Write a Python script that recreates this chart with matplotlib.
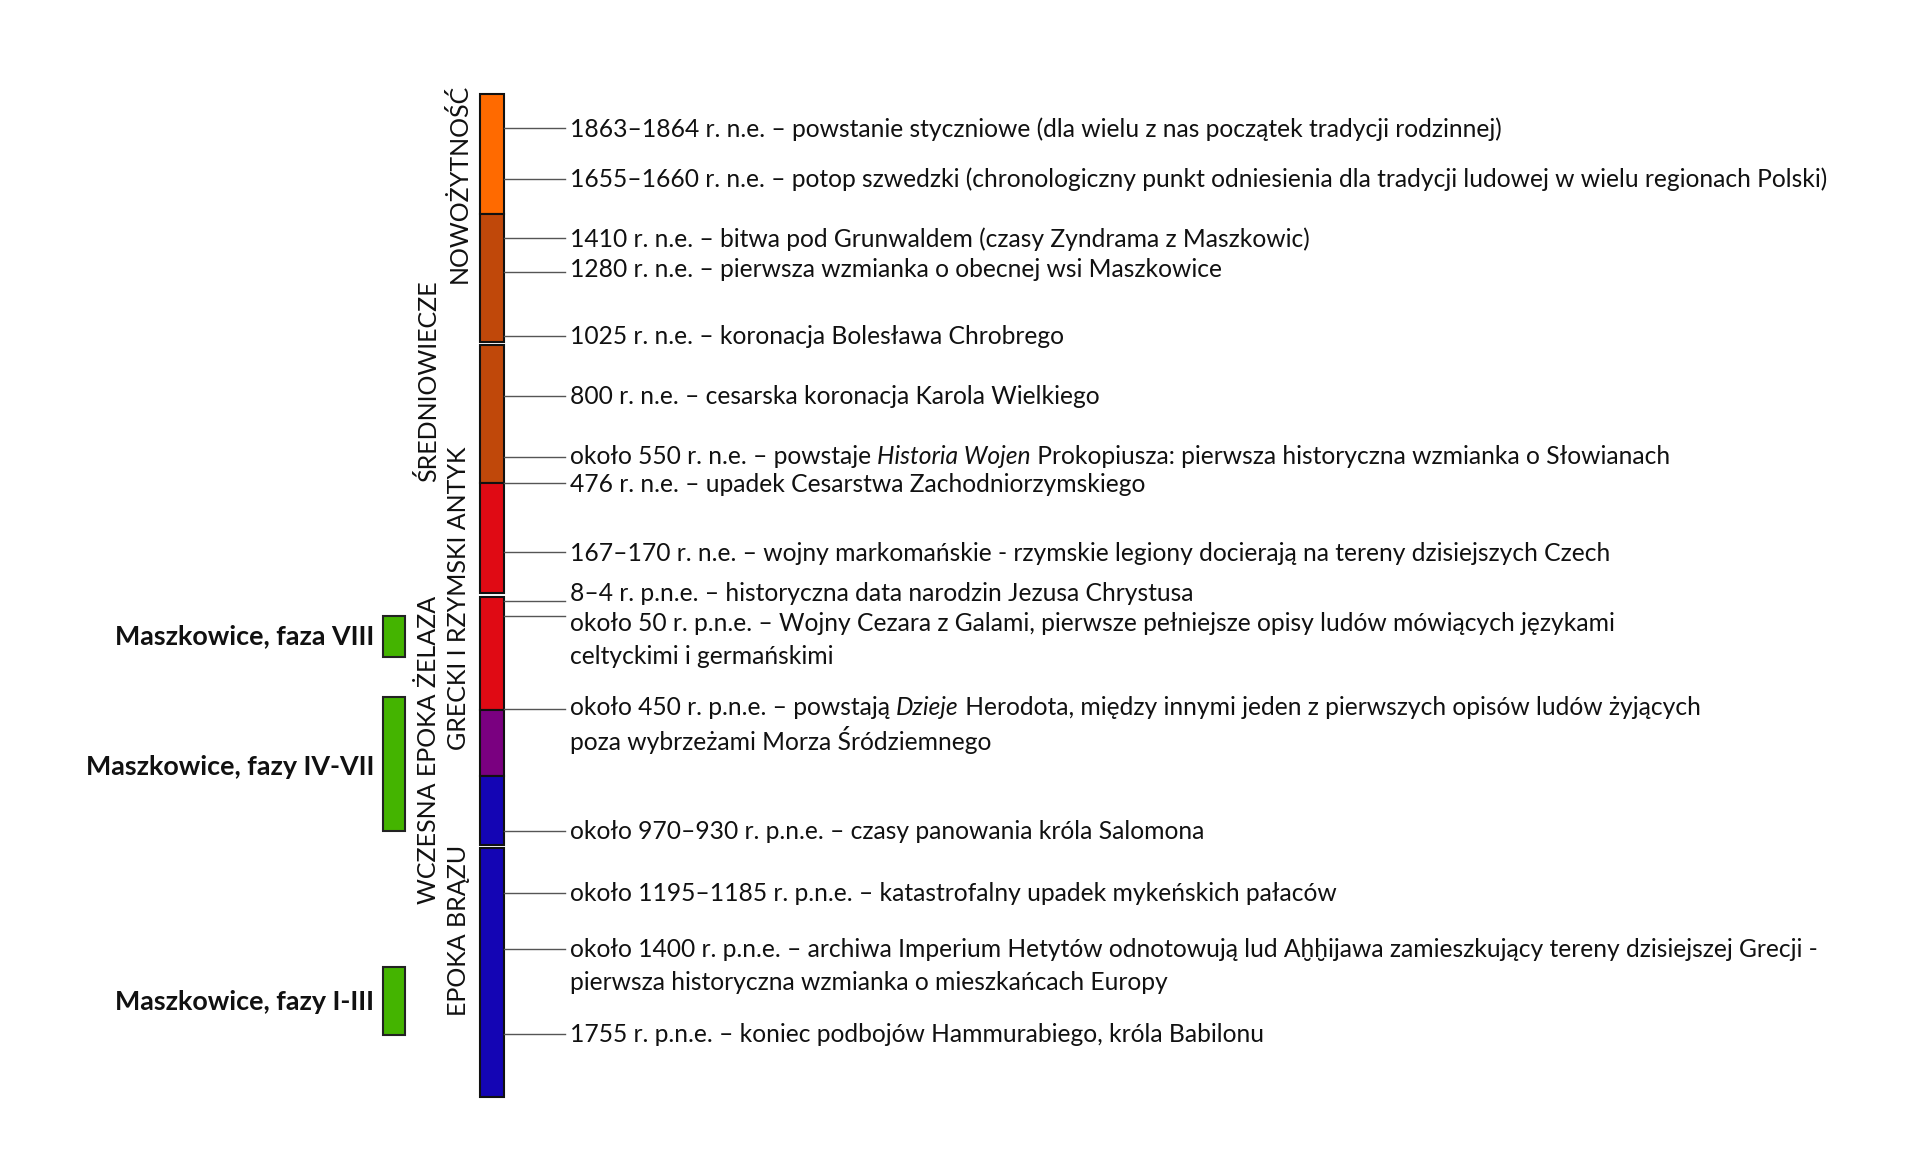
import matplotlib
matplotlib.use('Agg')
import matplotlib.pyplot as plt
from matplotlib.patches import Rectangle

FONT = ['Lato', 'DejaVu Sans']

# odcinki paska czasu (od gory)
seg_top = [94, 214, 345, 483, 597, 710, 776, 848]
seg_bot = [214, 342, 483, 593, 710, 776, 845, 1097]
seg_col = ['#ff6a00', '#c0480a', '#c0480a', '#e00a14', '#e00a14',
           '#7a0080', '#1405b4', '#1405b4']

epoki = ['NOWOŻYTNOŚĆ', 'ŚREDNIOWIECZE', 'GRECKI I RZYMSKI ANTYK',
         'WCZESNA EPOKA ŻELAZA', 'EPOKA BRĄZU']
epoki_y = [183, 381, 598, 750, 930]
epoki_kol = [1, 0, 1, 0, 1]

zdarzenia = [
    "1863–1864 r. n.e. – powstanie styczniowe (dla wielu z nas początek tradycji rodzinnej)",
    "1655–1660 r. n.e. – potop szwedzki (chronologiczny punkt odniesienia dla tradycji ludowej w wielu regionach Polski)",
    "1410 r. n.e. – bitwa pod Grunwaldem (czasy Zyndrama z Maszkowic)",
    "1280 r. n.e. – pierwsza wzmianka o obecnej wsi Maszkowice",
    "1025 r. n.e. – koronacja Bolesława Chrobrego",
    "800 r. n.e. – cesarska koronacja Karola Wielkiego",
    "około 550 r. n.e. – powstaje *Historia Wojen* Prokopiusza: pierwsza historyczna wzmianka o Słowianach",
    "476 r. n.e. – upadek Cesarstwa Zachodniorzymskiego",
    "167–170 r. n.e. – wojny markomańskie - rzymskie legiony docierają na tereny dzisiejszych Czech",
    "8–4 r. p.n.e. – historyczna data narodzin Jezusa Chrystusa",
    "około 50 r. p.n.e. – Wojny Cezara z Galami, pierwsze pełniejsze opisy ludów mówiących językami\nceltyckimi i germańskimi",
    "około 450 r. p.n.e. – powstają *Dzieje* Herodota, między innymi jeden z pierwszych opisów ludów żyjących\npoza wybrzeżami Morza Śródziemnego",
    "około 970–930 r. p.n.e. – czasy panowania króla Salomona",
    "około 1195–1185 r. p.n.e. – katastrofalny upadek mykeńskich pałaców",
    "około 1400 r. p.n.e. – archiwa Imperium Hetytów odnotowują lud Aḫḫijawa zamieszkujący tereny dzisiejszej Grecji -\npierwsza historyczna wzmianka o mieszkańcach Europy",
    "1755 r. p.n.e. – koniec podbojów Hammurabiego, króla Babilonu",
]
linia_y = [128, 179, 238, 272, 336, 396, 457, 483, 552, 601, 616, 709, 831, 893, 949, 1034]
tekst_y = [129, 179, 239, 269, 336, 396, 456, 484, 553, 593, 623, 707, 831, 893, 949, 1034]

fazy = ['Maszkowice, faza VIII', 'Maszkowice, fazy IV-VII', 'Maszkowice, fazy I-III']
fazy_top = [616, 697, 967]
fazy_bot = [657, 831, 1035]
fazy_y = [636, 767, 1002]


def napis(ax, x, y, s, size):
    # tekst z fragmentami kursywy oznaczonymi gwiazdkami
    parts = s.split('*')
    prev = None
    for i, p in enumerate(parts):
        if p == '':
            continue
        st = 'italic' if i % 2 == 1 else 'normal'
        if prev is None:
            prev = ax.text(x, y, p, fontsize=size, family=FONT, style=st,
                           ha='left', va='center', color='#111111')
        else:
            prev = ax.annotate(p, xy=(1, 0), xycoords=prev, fontsize=size,
                               family=FONT, style=st, ha='left', va='bottom',
                               color='#111111')


def main():
    fig = plt.figure(figsize=(19.2, 11.51), dpi=100)
    ax = fig.add_axes([0, 0, 1, 1])
    ax.set_xlim(0, 1920)
    ax.set_ylim(1151, 0)
    ax.axis('off')

    for t, b, c in zip(seg_top, seg_bot, seg_col):
        ax.add_patch(Rectangle((480, t), 24, b - t, facecolor=c,
                               edgecolor='#111111', lw=1.5))

    for s, y, k in zip(epoki, epoki_y, epoki_kol):
        ax.text(428 + 31 * k, y, s, rotation=90, ha='center', va='center',
                fontsize=18, family=FONT, color='#111111')

    for s, ly, ty in zip(zdarzenia, linia_y, tekst_y):
        ax.plot([504, 565], [ly, ly], color='#555555', lw=1)
        for j, line in enumerate(s.split('\n')):
            napis(ax, 570, ty + 33 * j, line, 17.7)

    for s, t, b, y in zip(fazy, fazy_top, fazy_bot, fazy_y):
        ax.add_patch(Rectangle((383, t), 22, b - t, facecolor='#44b400',
                               edgecolor='#222222', lw=1.5))
        ax.text(374, y, s, ha='right', va='center', fontsize=19.4,
                fontweight='bold', family=FONT, color='#111111')

    fig.savefig('out.png', dpi=100, facecolor='white')


if __name__ == '__main__':
    main()
